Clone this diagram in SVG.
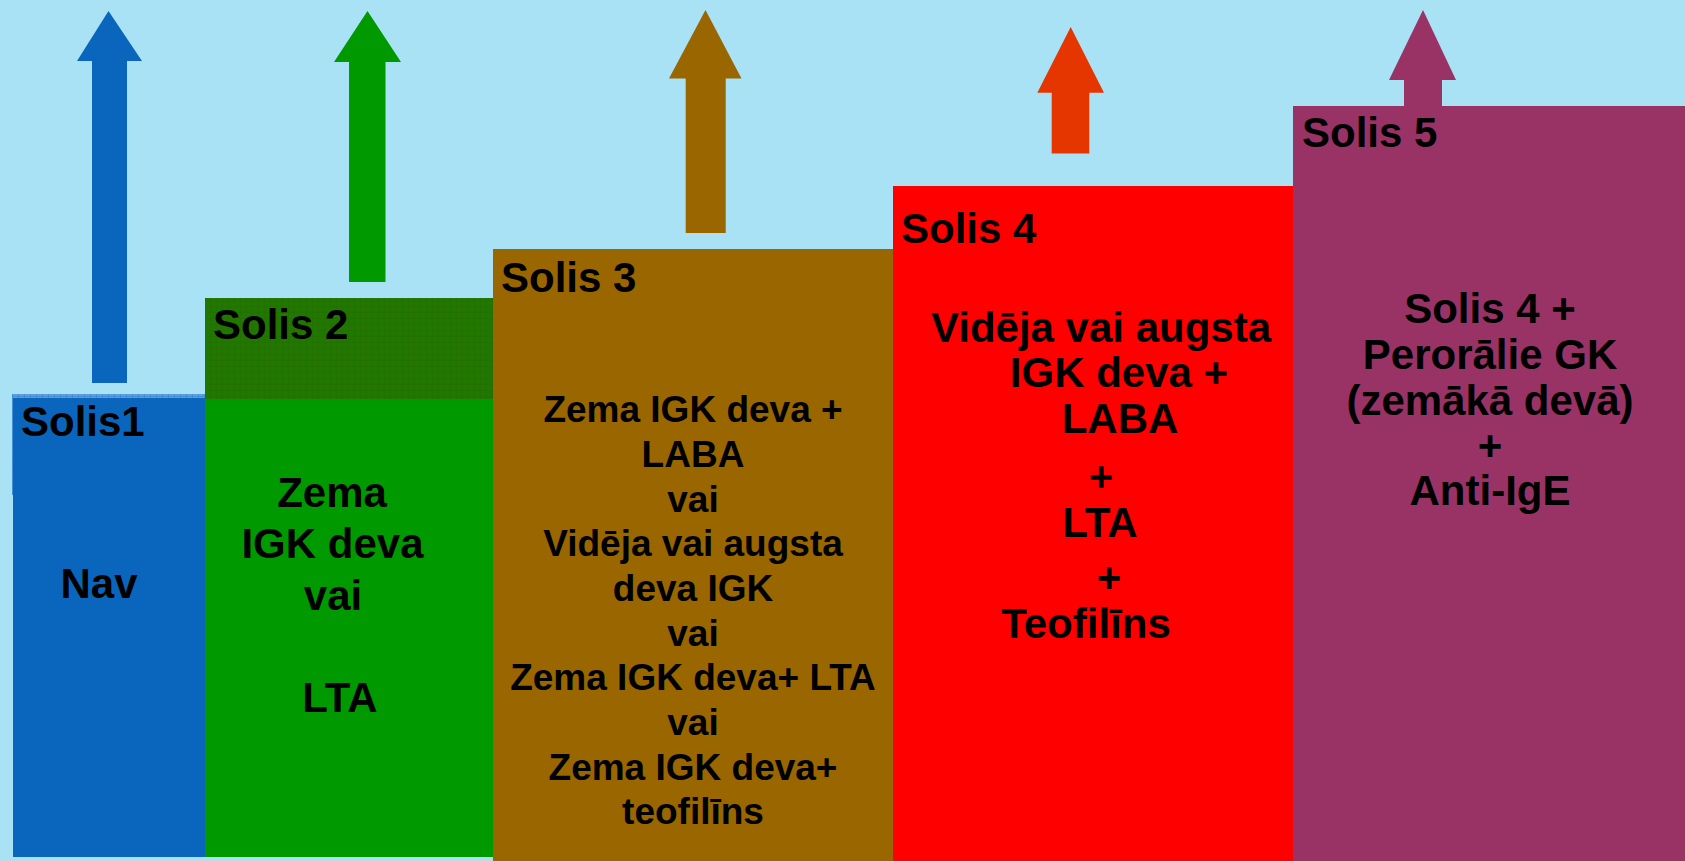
<svg xmlns="http://www.w3.org/2000/svg" width="1685" height="861" viewBox="0 0 1685 861">
<defs>
<pattern id="gridGreen" width="6" height="6" patternUnits="userSpaceOnUse">
<rect width="6" height="6" fill="#1b7b00"/>
<path d="M0 0.25H6M0.25 0V6" stroke="#2f6500" stroke-width="0.6"/>
</pattern>
<pattern id="gridBlue" width="6" height="6" patternUnits="userSpaceOnUse">
<rect width="6" height="6" fill="#5c9fdc"/>
<path d="M0 0.25H6M0.25 0V6" stroke="#2f7ccc" stroke-width="0.6"/>
</pattern>
<style>
text{font-family:"Liberation Sans",Arial,sans-serif;font-weight:bold;fill:#000;font-size:42px}
.c{text-anchor:middle}
.s{font-size:37px}
</style>
</defs>
<rect width="1685" height="861" fill="#a9e2f5"/>
<g id="arrows">
<polygon points="108.5,11 142,61 127,61 127,383 92,383 92,61 77,61" fill="#0a66bc"/>
<polygon points="367.5,11 401,62 385.5,62 385.5,282 349,282 349,62 334,62" fill="#009900"/>
<polygon points="705.5,10 741.5,78.5 725.7,78.5 725.7,233 685.7,233 685.7,78.5 669,78.5" fill="#996600"/>
<polygon points="1070.7,27 1104,92.7 1089.3,92.7 1089.3,153.5 1051.7,153.5 1051.7,92.7 1037.3,92.7" fill="#e63600"/>
<polygon points="1423,10 1456,80 1442,80 1442,106 1404,106 1404,80 1389,80" fill="#993366"/>
</g>
<g id="step1">
<rect x="12" y="394" width="193" height="101" fill="url(#gridBlue)"/>
<rect x="13" y="398" width="192" height="459" fill="#0a66bc"/>
<text x="21" y="436">Solis1</text>
<text class="c" x="99" y="598">Nav</text>
</g>
<g id="step2">
<rect x="205" y="298" width="288" height="559" fill="#009900"/>
<rect x="205" y="298" width="288" height="101" fill="url(#gridGreen)"/>
<text x="213" y="339">Solis 2</text>
<text class="c" x="332" y="507">Zema</text>
<text class="c" x="332.5" y="558">IGK deva</text>
<text class="c" x="333" y="610">vai</text>
<text class="c" x="340" y="712">LTA</text>
</g>
<g id="step3">
<rect x="493" y="249" width="400" height="612" fill="#996600"/>
<text x="501" y="292">Solis 3</text>
<text class="c s" x="693" y="422">Zema IGK deva +</text>
<text class="c s" x="693" y="467">LABA</text>
<text class="c s" x="693" y="511.5">vai</text>
<text class="c s" x="693" y="556">Vidēja vai augsta</text>
<text class="c s" x="693" y="601">deva IGK</text>
<text class="c s" x="693" y="645.5">vai</text>
<text class="c s" x="693" y="690">Zema IGK deva+ LTA</text>
<text class="c s" x="693" y="735">vai</text>
<text class="c s" x="693" y="779.5">Zema IGK deva+</text>
<text class="c s" x="693" y="824">teofilīns</text>
</g>
<g id="step4">
<rect x="893" y="186" width="400" height="675" fill="#ff0000"/>
<text x="901" y="243">Solis 4</text>
<text class="c" x="1101" y="342">Vidēja vai augsta</text>
<text class="c" x="1119" y="387">IGK deva +</text>
<text class="c" x="1120" y="433">LABA</text>
<text class="c" x="1101" y="491">+</text>
<text class="c" x="1100" y="537">LTA</text>
<text class="c" x="1109" y="592">+</text>
<text class="c" x="1086" y="638">Teofilīns</text>
</g>
<g id="step5">
<rect x="1293" y="106" width="392" height="755" fill="#993366"/>
<text x="1302" y="147">Solis 5</text>
<text class="c" x="1490" y="323">Solis 4 +</text>
<text class="c" x="1490" y="369">Perorālie GK</text>
<text class="c" x="1490" y="415">(zemākā devā)</text>
<text class="c" x="1490" y="460">+</text>
<text class="c" x="1490" y="505">Anti-IgE</text>
</g>
</svg>
